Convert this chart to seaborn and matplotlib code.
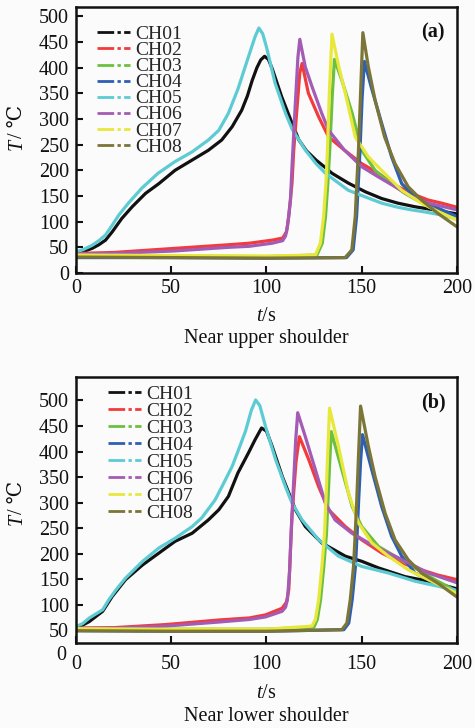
import numpy as np
import pandas as pd
import seaborn as sns
import matplotlib
matplotlib.use("Agg")
import matplotlib.pyplot as plt
from matplotlib.lines import Line2D
from matplotlib.transforms import blended_transform_factory

channels = ["CH01", "CH02", "CH03", "CH04", "CH05", "CH06", "CH07", "CH08"]
colors = ["#111111", "#f23b3b", "#6cc040", "#2e5fb2", "#5ccbd4", "#a45bb5", "#e8e83c", "#7b7537"]

# ---- (a) near upper shoulder: time (s) / temperature (degC) ----
a_ch01_t = [0, 4, 8.5, 12, 15.5, 19, 24, 29.5, 36.5, 43.5, 52, 61, 69.5, 76.5, 82, 87, 90, 92.5, 95, 97, 99, 101, 103, 108, 113.5, 117, 121, 126, 131, 134.5, 143, 152, 160.5, 169, 178, 188, 200]
a_ch01_T = [38, 42, 48, 55, 64, 80, 106, 129, 155, 174, 200, 220, 239, 259, 285, 317, 345, 375, 400, 415, 422, 416, 398, 343, 291, 259, 238, 220, 205, 194, 175, 158, 145, 136, 129, 123, 115]
a_ch02_t = [0, 20, 52, 80, 91, 103, 108.5, 110.5, 111.7, 113.4, 114.3, 116, 117.5, 118.7, 122, 127.4, 132.6, 141, 150, 158.8, 167.5, 176, 185, 192, 200]
a_ch02_T = [38, 40, 48, 55, 58, 64, 68, 80, 110, 175, 239, 320, 390, 408, 350, 304, 265, 239, 213, 194, 171, 155, 142, 136, 128]
a_ch03_t = [0, 50, 100, 126.5, 129.3, 131, 132.2, 133.2, 134.6, 135.7, 139.6, 145, 150, 157, 164, 172.7, 185, 192, 200]
a_ch03_T = [34, 33, 32, 35, 58, 110, 174, 239, 350, 416, 375, 311, 239, 200, 178, 155, 129, 117, 105]
a_ch04_t = [0, 50, 100, 142, 145.5, 147.3, 148.2, 149.1, 150.2, 151.4, 155, 160.5, 165.7, 171, 178, 188.4, 200]
a_ch04_T = [30, 30, 29, 30, 45, 110, 174, 239, 340, 412, 362, 291, 226, 174, 148, 129, 110]
a_ch05_t = [0, 4, 8.5, 12, 15.5, 19, 22.5, 27.5, 34.5, 43, 52, 61, 69.5, 75, 80, 85, 90, 94, 96, 98, 100, 104.5, 110, 113.5, 120.5, 126, 131, 143, 152, 160.5, 169, 176, 183, 192, 200]
a_ch05_T = [41, 46, 54, 63, 74, 93, 113, 136, 165, 194, 217, 236, 259, 278, 311, 358, 415, 460, 477, 466, 440, 370, 311, 280, 239, 213, 194, 161, 148, 136, 128, 123, 119, 113, 105]
a_ch06_t = [0, 20, 52, 80, 91, 103, 108.5, 110, 111, 112.6, 113.4, 115, 116.5, 117.5, 120.4, 124, 129, 132.6, 141, 150, 158.8, 167.5, 176, 185, 192, 200]
a_ch06_T = [37, 38, 43, 50, 52, 58, 63, 72, 90, 142, 207, 320, 420, 455, 401, 362, 311, 278, 239, 207, 187, 168, 149, 136, 130, 123]
a_ch07_t = [0, 50, 100, 125.7, 128.3, 130, 131.2, 132, 133, 134.4, 138, 141.4, 146.6, 153.5, 162, 171, 181.4, 190, 200]
a_ch07_T = [35, 34, 33, 35, 58, 110, 174, 239, 350, 465, 401, 350, 265, 226, 194, 161, 136, 120, 103]
a_ch08_t = [0, 50, 100, 141.3, 144.8, 146.6, 147.4, 148.3, 149.5, 150.6, 153.5, 157, 162, 167.5, 174.4, 181.4, 190, 200]
a_ch08_T = [31, 30, 29, 30, 45, 110, 174, 239, 360, 468, 401, 337, 265, 213, 168, 142, 116, 90]

# ---- (b) near lower shoulder ----
b_ch01_t = [0, 3.5, 7, 14, 19, 26, 35, 43.5, 52, 61, 69.5, 75, 80, 85, 90.5, 94, 97.4, 100, 103, 108.3, 115.2, 120.4, 129, 141.4, 150, 158.8, 172.7, 185, 200]
b_ch01_T = [56, 60, 67, 87, 116, 149, 178, 201, 224, 240, 266, 286, 312, 358, 397, 423, 446, 440, 410, 351, 286, 253, 221, 195, 185, 172, 155, 146, 131]
b_ch02_t = [0, 20, 47, 75, 91, 99.5, 108.2, 110.5, 111.7, 112.6, 113.4, 114.3, 115.5, 117.3, 122.2, 127.4, 132.6, 141.4, 150, 160.6, 171, 181.4, 190, 200]
b_ch02_T = [54, 55, 61, 70, 74, 80, 93, 105, 129, 208, 273, 320, 380, 429, 384, 331, 286, 253, 227, 201, 182, 168, 158, 149]
b_ch03_t = [0, 50, 100, 124.9, 126.7, 128.4, 130.1, 131.5, 132.3, 133.2, 134, 139.6, 145, 150, 158.8, 167.5, 178, 188.4, 200]
b_ch03_T = [53, 52, 52, 56, 71, 110, 175, 240, 305, 380, 439, 364, 292, 253, 214, 195, 172, 149, 126]
b_ch04_t = [0, 50, 100, 140.6, 143.2, 145, 146.7, 147.6, 148.4, 149.4, 150.4, 155.3, 160.5, 165.7, 171, 178, 188.4, 200]
b_ch04_T = [49, 48, 48, 51, 64, 110, 175, 240, 305, 380, 433, 364, 292, 234, 195, 162, 142, 124]
b_ch05_t = [0, 3.5, 7, 14, 17.3, 21, 26, 35, 43.5, 52, 61, 66, 70, 73, 76.6, 82, 85.3, 89, 92, 94.3, 96.5, 99.5, 104.8, 110, 113.4, 118.7, 127.4, 137.8, 150, 164, 178, 200]
b_ch05_T = [57, 63, 74, 90, 110, 129, 152, 185, 211, 230, 253, 270, 290, 305, 331, 371, 403, 440, 480, 501, 490, 449, 384, 331, 299, 266, 227, 195, 175, 162, 146, 128]
b_ch06_t = [0, 20, 47, 75, 91, 99.5, 108.2, 110, 111, 112.2, 113, 114, 115.3, 116.4, 120.4, 125.7, 130.9, 136, 144.8, 153.6, 164, 174.5, 185, 200]
b_ch06_T = [54, 54, 58, 66, 71, 76, 87, 95, 110, 169, 247, 320, 420, 476, 429, 364, 299, 266, 240, 221, 201, 182, 162, 143]
b_ch07_t = [0, 50, 100, 123.9, 125.7, 127.4, 129.1, 130.5, 131.2, 132.2, 133.1, 137.8, 143, 148.3, 155.3, 164, 174.5, 185, 200]
b_ch07_T = [53, 52, 52, 58, 71, 110, 175, 240, 305, 400, 485, 410, 319, 260, 221, 195, 168, 149, 122]
b_ch08_t = [0, 50, 100, 139.6, 142.2, 144, 145.7, 146.6, 147.4, 148.4, 149.4, 153.5, 157, 162.3, 167.5, 174.4, 181.4, 190, 200]
b_ch08_T = [49, 48, 48, 51, 64, 110, 175, 240, 305, 400, 489, 410, 351, 279, 227, 188, 162, 142, 115]

x_ticks = [0, 50, 100, 150, 200]
y_ticks = [0, 50, 100, 150, 200, 250, 300, 350, 400, 450, 500]

panel_a = [(a_ch01_t, a_ch01_T), (a_ch02_t, a_ch02_T), (a_ch03_t, a_ch03_T), (a_ch04_t, a_ch04_T),
           (a_ch05_t, a_ch05_T), (a_ch06_t, a_ch06_T), (a_ch07_t, a_ch07_T), (a_ch08_t, a_ch08_T)]
panel_b = [(b_ch01_t, b_ch01_T), (b_ch02_t, b_ch02_T), (b_ch03_t, b_ch03_T), (b_ch04_t, b_ch04_T),
           (b_ch05_t, b_ch05_T), (b_ch06_t, b_ch06_T), (b_ch07_t, b_ch07_T), (b_ch08_t, b_ch08_T)]


def to_frame(series):
    rows = []
    for name, (ts, Ts) in zip(channels, series):
        for t, T in zip(ts, Ts):
            rows.append((name, t, T))
    return pd.DataFrame(rows, columns=["channel", "t", "T"])


sns.set_theme(style="white")
plt.rcParams["font.family"] = ["Liberation Serif", "DejaVu Serif", "DejaVu Sans"]
plt.rcParams["mathtext.fontset"] = "custom"
plt.rcParams["mathtext.rm"] = "Liberation Serif"
plt.rcParams["mathtext.it"] = "Liberation Serif:italic"
plt.rcParams["mathtext.bf"] = "Liberation Serif:bold"

BG = "#fbfbfb"
FS = 14.5
INK = "#111111"
fig = plt.figure(figsize=(4.75, 7.28), dpi=100, facecolor=BG)
ax_a = fig.add_axes([0.160, 0.6250, 0.802, 0.3654])
ax_b = fig.add_axes([0.160, 0.1168, 0.802, 0.3654])

palette = dict(zip(channels, colors))
dash = (0, (6, 1.2, 1.2, 1.2))


def y_label(ax, x_base, y_center):
    """Rotated 'T/ ℃' label: italic T followed by an upright unit."""
    kw = dict(transform=ax.transAxes, rotation=90, rotation_mode="anchor",
              ha="left", va="baseline", fontsize=FS, color=INK)
    t_sym = ax.text(x_base, 0, "T", style="italic", **kw)
    t_unit = ax.text(x_base, 0, "/ ℃", **kw)
    renderer = fig.canvas.get_renderer()
    h_sym = t_sym.get_window_extent(renderer).height / ax.bbox.height
    h_unit = t_unit.get_window_extent(renderer).height / ax.bbox.height
    start = y_center - (h_sym + h_unit) / 2
    t_sym.set_y(start)
    t_unit.set_y(start + h_sym)


def draw(ax, series, ylim, tag, xpad, leg_xy, leg_sp, xl_y, sub_y, subtitle, ylab_y):
    df = to_frame(series)
    ax.set_facecolor(BG)
    sns.lineplot(data=df, x="t", y="T", hue="channel", palette=palette, estimator=None,
                 sort=False, units="channel", linewidth=2.3, legend=False, ax=ax)
    ax.set_xlim(0, 200)
    ax.set_ylim(*ylim)
    ax.set_xticks(x_ticks)
    ax.set_yticks([v for v in y_ticks if v >= ylim[0]])
    ax.tick_params(axis="both", direction="in", length=5, width=1.5, labelsize=FS,
                   colors=INK, left=True, bottom=True)
    ax.tick_params(axis="x", pad=xpad)
    ax.tick_params(axis="y", pad=5.0)
    for s in ax.spines.values():
        s.set_linewidth(1.8)
        s.set_color(INK)
    ax.set_xlabel("")
    ax.set_ylabel("")
    y_label(ax, -0.142, ylab_y)
    ax.text(0.5, xl_y, "$t$/s", transform=ax.transAxes, ha="center", va="center",
            fontsize=FS, color=INK)
    ax.text(0.5, sub_y, subtitle, transform=ax.transAxes, ha="center", va="center",
            fontsize=FS, color=INK)
    ax.text(0.937, 0.905, tag, transform=ax.transAxes, ha="center", va="center",
            fontsize=14.5, fontweight="bold", color=INK)
    handles = [Line2D([], [], color=c, lw=2, linestyle=dash) for c in colors]
    ax.legend(handles, channels, loc="upper left", bbox_to_anchor=leg_xy, frameon=False,
              fontsize=14, handlelength=1.7, handletextpad=0.26, labelspacing=leg_sp,
              borderpad=0, borderaxespad=0)


draw(ax_a, panel_a, (0, 518), "(a)", 4.5, (0.055, 0.930), -0.08, -0.163, -0.248,
     "Near upper shoulder", 0.547)
draw(ax_b, panel_b, (25, 546), "(b)", 8.5, (0.084, 0.969), -0.03, -0.191, -0.276,
     "Near lower shoulder", 0.526)

# origin label drawn below the clipped lower limit
ax_b.text(-0.026, 0, "0", transform=blended_transform_factory(ax_b.transAxes, ax_b.transData),
          ha="right", va="center", fontsize=FS, clip_on=False, color=INK)

fig.savefig("out.png", dpi=100, facecolor=BG)
